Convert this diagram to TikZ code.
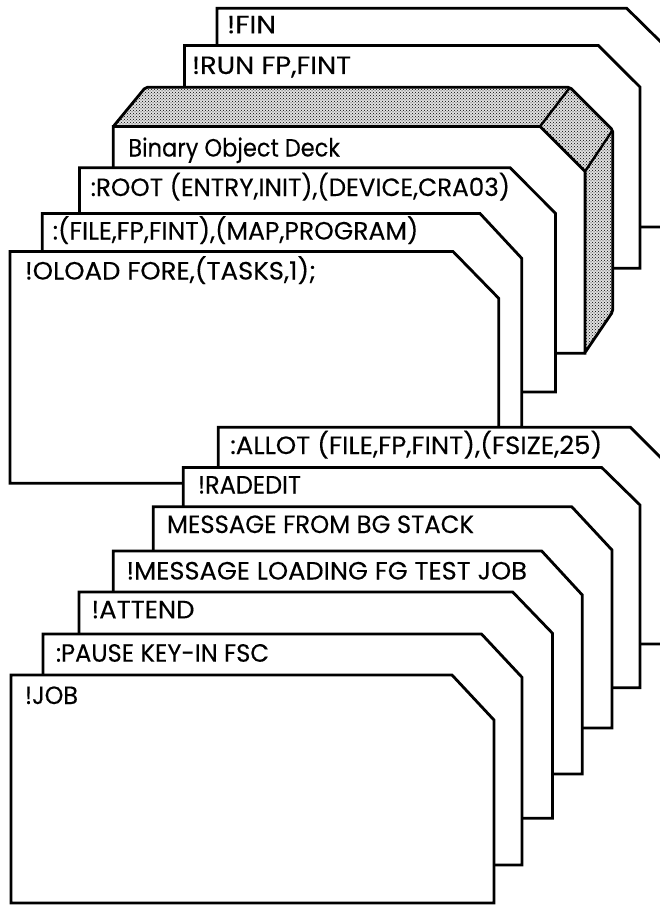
\documentclass[tikz,border=0pt]{standalone}
\usepackage{fontspec}
\setmainfont{Poppins}
\newfontfamily\cardfont[FakeBold=0.2]{Poppins}
\usepackage{graphicx}
\usetikzlibrary{patterns}
\tikzset{
  card/.style={draw=black, fill=white, line width=2.8pt},
  blockface/.style={draw=black, line width=2.8pt, pattern=crosshatch dots, pattern color=black},
  edgeline/.style={draw=black, line width=2.4pt},
  cardtext/.style={anchor=base west, inner sep=0pt, outer sep=0pt, font=\cardfont\fontsize{25}{29}\selectfont},
}
% L T cornerx R cuty B
\newcommand\deckcard[6]{\draw[card] (#1,#6) -- (#1,#2) -- (#3,#2) -- (#4,#5) -- (#4,#6) -- cycle;}
\newcommand\fw[2]{\resizebox{#1pt}{\height}{#2}}
\begin{document}
\begin{tikzpicture}[x=1pt,y=-1pt]
\useasboundingbox (0,0) rectangle (660,907);
\clip (0,0) rectangle (660,907);
% ---------- upper deck ----------
\deckcard{217}{8.3}{626.7}{672}{53}{227}
\node[cardtext] (fin) at (227,33.3) {\fw{49}{!FIN}};
\deckcard{184.5}{45.5}{598.3}{640}{87}{268.3}
\node[cardtext] (run) at (192,74) {\fw{159}{!RUN FP,FINT}};
% shaded block (binary object deck)
\fill[black!12] (145.5,87.3) -- (570,87.3) -- (612.7,130) -- (612.7,311.7) -- (584.5,353.3) -- (585,171.5) -- (540,126.5) -- (113.3,126.5) -- cycle;
\draw[blockface, rounded corners=2pt] (145.5,87.3) -- (570,87.3) -- (612.7,130) -- (612.7,311.7) -- (584.5,353.3) -- (585,171.5) -- (540,126.5) -- (113.3,126.5) -- cycle;
\draw[edgeline] (570,87.3) -- (540,126.5);
\draw[edgeline] (612.7,130) -- (585,171.5);
\deckcard{113.3}{126.5}{540}{585}{171.5}{353.3}
\node[cardtext] (bin) at (128.3,156.5) {\fw{211.7}{Binary Object Deck}};
\deckcard{79.5}{167.7}{510}{555.5}{213.3}{392}
\node[cardtext] (root) at (90.7,196) {\fw{419.3}{:ROOT (ENTRY,INIT),(DEVICE,CRA03)}};
\deckcard{42.3}{213.5}{480}{521.7}{258.3}{436}
\node[cardtext] (file) at (52.7,239.5) {\fw{365.6}{:(FILE,FP,FINT),(MAP,PROGRAM)}};
\deckcard{10}{251.5}{453}{498.7}{298.3}{483.3}
\node[cardtext] (oload) at (25,279.5) {\fw{291}{!OLOAD FORE,(TASKS,1);}};
% ---------- lower deck ----------
\deckcard{218.3}{427.3}{630.5}{675}{472}{644}
\node[cardtext] (allot) at (230.3,454) {\fw{372}{:ALLOT (FILE,FP,FINT),(FSIZE,25)}};
\deckcard{183.3}{467.5}{601.7}{640}{505}{687.7}
\node[cardtext] (radedit) at (198,493.5) {\fw{103}{!RADEDIT}};
\deckcard{153.3}{506.7}{571.7}{612}{550}{728}
\node[cardtext] (msgbg) at (167,533) {\fw{307}{MESSAGE FROM BG STACK}};
\deckcard{113.3}{551}{541.7}{582.3}{595}{774}
\node[cardtext] (msgld) at (126.5,579.5) {\fw{400.5}{!MESSAGE LOADING FG TEST JOB}};
\deckcard{79}{592}{512.7}{552.5}{633.3}{818.3}
\node[cardtext] (attend) at (91.5,618.3) {\fw{103}{!ATTEND}};
\deckcard{43}{634}{481.5}{522}{677.3}{865}
\node[cardtext] (pause) at (56,661.7) {\fw{213}{:PAUSE KEY-IN FSC}};
\deckcard{11}{675}{452}{494}{720}{903}
\node[cardtext] (job) at (25,704) {\fw{53}{!JOB}};
\end{tikzpicture}
\end{document}
